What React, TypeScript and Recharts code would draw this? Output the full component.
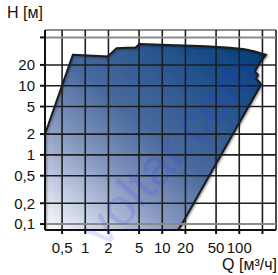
import React from "react";
import { ComposedChart, Area, XAxis, YAxis, ReferenceLine } from "recharts";

const flowTicks = [0.5, 1, 2, 5, 10, 20, 50, 100, 200];
const flowLabels = ["0,5", "1", "2", "5", "10", "20", "50", "100", ""];
const headTicks = [0.1, 0.2, 0.5, 1, 2, 5, 10, 20, 50];
const headLabels = ["0,1", "0,2", "0,5", "1", "2", "5", "10", "20", ""];

// pump working field outline (Q m3/h, H m)
const fieldQ = [0.3, 0.3, 0.69, 1.96, 2.56, 4.52, 5.04, 9.35, 35.9, 75, 117, 158, 222, 190, 168, 160, 175, 165, 186, 191, 75, 17.7, 16];
const fieldH = [0.082, 2, 28, 26.5, 35, 35.8, 40, 39.1, 37.2, 35.4, 33.6, 31.3, 28, 22.4, 18, 15.9, 14.4, 12.6, 11.0, 10.3, 1.65, 0.097, 0.082];

const xDomain = [0.3, 300];
const yDomain = [0.082, 64];

const data = fieldQ.map((q, i) => ({ q, h: fieldH[i] }));

const FONT = "'Liberation Sans', Arial, sans-serif";

export default function App() {
  const fmtX = (v: number) => flowLabels[flowTicks.indexOf(v)] ?? "";
  const fmtY = (v: number) => headLabels[headTicks.indexOf(v)] ?? "";
  return (
    <div style={{ position: "absolute", left: 0, top: 0, width: 278, height: 275, background: "#fff", overflow: "hidden", fontFamily: FONT }}>
      <ComposedChart width={278} height={275} data={data} margin={{ top: 30, right: 2, left: 0, bottom: 0 }}>
        <defs>
          <linearGradient id="fieldGrad" x1="0" y1="1" x2="1" y2="0">
            <stop offset="0" stopColor="#ffffff" />
            <stop offset="0.12" stopColor="#cdd5e7" />
            <stop offset="0.3" stopColor="#8598c0" />
            <stop offset="0.5" stopColor="#4a6a9e" />
            <stop offset="0.85" stopColor="#164a86" />
            <stop offset="1" stopColor="#003a72" />
          </linearGradient>
          <filter id="shadow" x="-10%" y="-10%" width="120%" height="120%">
            <feDropShadow dx="1" dy="1" stdDeviation="1.2" floodColor="#000" floodOpacity="0.35" />
          </filter>
        </defs>
        <XAxis
          dataKey="q"
          type="number"
          scale="log"
          domain={xDomain}
          allowDataOverflow
          ticks={flowTicks}
          interval={0}
          tickFormatter={fmtX}
          height={45}
          tickSize={4}
          tickMargin={8}
          axisLine={{ stroke: "#111", strokeWidth: 2 }}
          tickLine={{ stroke: "#111", strokeWidth: 2 }}
          tick={{ fill: "#111", fontSize: 15, fontFamily: FONT }}
        />
        <YAxis
          dataKey="h"
          type="number"
          scale="log"
          domain={yDomain}
          allowDataOverflow
          ticks={headTicks}
          interval={0}
          tickFormatter={fmtY}
          width={45}
          tickSize={5}
          tickMargin={5}
          axisLine={{ stroke: "#111", strokeWidth: 2 }}
          tickLine={{ stroke: "#111", strokeWidth: 2 }}
          tick={{ fill: "#111", fontSize: 15, fontFamily: FONT }}
        />
        <Area
          type="linear"
          dataKey="h"
          baseValue="dataMin"
          fill="url(#fieldGrad)"
          fillOpacity={1}
          stroke="#1a1a1a"
          strokeWidth={2}
          filter="url(#shadow)"
          isAnimationActive={false}
          dot={false}
          activeDot={false}
        />
        {flowTicks.map((v) => (
          <ReferenceLine key={"vx" + v} x={v} stroke="#1e1e1e" strokeWidth={1.6} />
        ))}
        <ReferenceLine x={300} stroke="#1e1e1e" strokeWidth={1.6} />
        {headTicks.map((v) => (
          <ReferenceLine key={"hy" + v} y={v} stroke={v === 0.1 || v === 50 ? "#8a8a8a" : "#1e1e1e"} strokeWidth={v === 0.1 || v === 50 ? 2 : 1.6} />
        ))}
        <ReferenceLine y={64} stroke="#1e1e1e" strokeWidth={1.2} />
      </ComposedChart>
      <div style={{ position: "absolute", left: 7, top: 4, fontSize: 16, color: "#111", whiteSpace: "nowrap" }}>H [м]</div>
      <div style={{ position: "absolute", right: 1, top: 256, fontSize: 16, color: "#111", whiteSpace: "nowrap" }}>Q [м³/ч]</div>
      <div
        style={{
          position: "absolute",
          left: 170,
          top: 150,
          transform: "translate(-50%, -50%) rotate(-48deg)",
          fontSize: 52,
          lineHeight: "56px",
          color: "rgba(50,50,255,0.15)",
          whiteSpace: "nowrap",
          pointerEvents: "none",
          fontFamily: FONT,
        }}
      >
        voltar.com
      </div>
    </div>
  );
}
